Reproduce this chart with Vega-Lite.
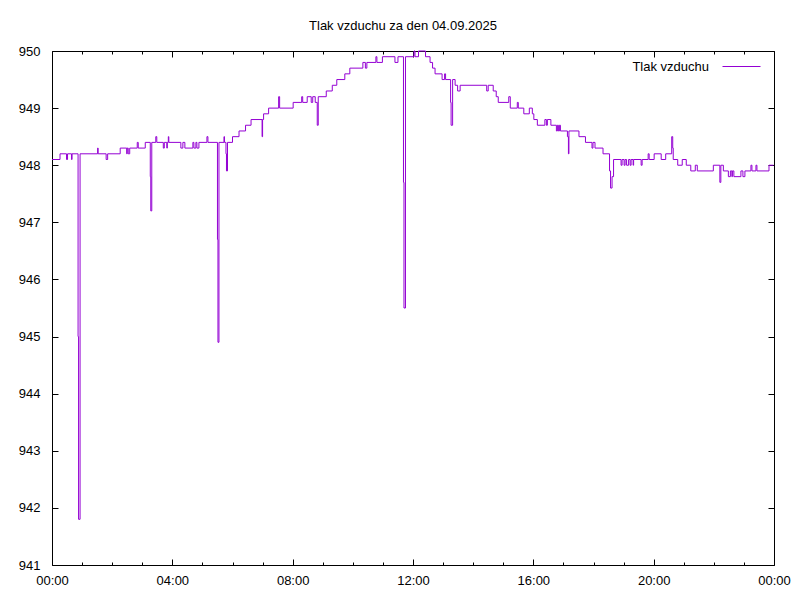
{
  "$schema": "https://vega.github.io/schema/vega-lite/v6.json",
  "width": 722,
  "height": 514,
  "autosize": {"type": "none"},
  "padding": {"left": 52, "top": 51, "right": 26, "bottom": 35},
  "background": "white",
  "title": {"text": "Tlak vzduchu za den 04.09.2025", "font": "Liberation Sans", "fontSize": 13, "fontWeight": "normal", "color": "black", "offset": 12, "dx": -10},
  "config": {
    "view": {"stroke": "black", "strokeWidth": 1},
    "axis": {"grid": false, "domain": false, "title": null, "tickColor": "black", "tickWidth": 1, "labelColor": "black", "labelFont": "Liberation Sans", "labelFontSize": 13}
  },
  "data": {"values": [
    {"minuta": 0, "tlak": 948.1}, {"minuta": 16, "tlak": 948.2}, {"minuta": 29, "tlak": 948.1}, {"minuta": 31, "tlak": 948.2},
    {"minuta": 39, "tlak": 948.1}, {"minuta": 40, "tlak": 948.2}, {"minuta": 52, "tlak": 945.0}, {"minuta": 53, "tlak": 941.8},
    {"minuta": 56, "tlak": 948.2}, {"minuta": 91, "tlak": 948.3}, {"minuta": 92, "tlak": 948.2}, {"minuta": 108, "tlak": 948.1},
    {"minuta": 111, "tlak": 948.2}, {"minuta": 136, "tlak": 948.3}, {"minuta": 149, "tlak": 948.2}, {"minuta": 150, "tlak": 948.3},
    {"minuta": 152, "tlak": 948.2}, {"minuta": 155, "tlak": 948.3}, {"minuta": 170, "tlak": 948.4}, {"minuta": 172, "tlak": 948.3},
    {"minuta": 186, "tlak": 948.4}, {"minuta": 196, "tlak": 947.8}, {"minuta": 197, "tlak": 947.2}, {"minuta": 199, "tlak": 948.4},
    {"minuta": 207, "tlak": 948.5}, {"minuta": 209, "tlak": 948.4}, {"minuta": 222, "tlak": 948.3}, {"minuta": 224, "tlak": 948.4},
    {"minuta": 229, "tlak": 948.3}, {"minuta": 230, "tlak": 948.4}, {"minuta": 232, "tlak": 948.5}, {"minuta": 233, "tlak": 948.4},
    {"minuta": 257, "tlak": 948.3}, {"minuta": 261, "tlak": 948.4}, {"minuta": 265, "tlak": 948.3}, {"minuta": 281, "tlak": 948.4},
    {"minuta": 283, "tlak": 948.3}, {"minuta": 287, "tlak": 948.4}, {"minuta": 289, "tlak": 948.3}, {"minuta": 293, "tlak": 948.4},
    {"minuta": 309, "tlak": 948.5}, {"minuta": 311, "tlak": 948.4}, {"minuta": 330, "tlak": 946.7}, {"minuta": 331, "tlak": 944.9},
    {"minuta": 333, "tlak": 948.4}, {"minuta": 343, "tlak": 948.5}, {"minuta": 344, "tlak": 948.4}, {"minuta": 347, "tlak": 948.2},
    {"minuta": 348, "tlak": 947.9}, {"minuta": 350, "tlak": 948.4}, {"minuta": 360, "tlak": 948.5}, {"minuta": 373, "tlak": 948.6},
    {"minuta": 386, "tlak": 948.7}, {"minuta": 397, "tlak": 948.8}, {"minuta": 419, "tlak": 948.5}, {"minuta": 420, "tlak": 948.8},
    {"minuta": 422, "tlak": 948.9}, {"minuta": 432, "tlak": 949.0}, {"minuta": 452, "tlak": 949.2}, {"minuta": 454, "tlak": 949.0},
    {"minuta": 481, "tlak": 949.1}, {"minuta": 498, "tlak": 949.2}, {"minuta": 500, "tlak": 949.1}, {"minuta": 509, "tlak": 949.2},
    {"minuta": 517, "tlak": 949.1}, {"minuta": 520, "tlak": 949.2}, {"minuta": 525, "tlak": 949.1}, {"minuta": 529, "tlak": 948.7},
    {"minuta": 531, "tlak": 949.2}, {"minuta": 547, "tlak": 949.3}, {"minuta": 559, "tlak": 949.4}, {"minuta": 568, "tlak": 949.5},
    {"minuta": 584, "tlak": 949.6}, {"minuta": 594, "tlak": 949.7}, {"minuta": 620, "tlak": 949.8}, {"minuta": 625, "tlak": 949.7},
    {"minuta": 628, "tlak": 949.8}, {"minuta": 646, "tlak": 949.9}, {"minuta": 648, "tlak": 949.8}, {"minuta": 659, "tlak": 949.9},
    {"minuta": 684, "tlak": 949.8}, {"minuta": 690, "tlak": 949.9}, {"minuta": 701, "tlak": 947.7}, {"minuta": 702, "tlak": 945.5},
    {"minuta": 705, "tlak": 949.9}, {"minuta": 722, "tlak": 950.0}, {"minuta": 724, "tlak": 949.9}, {"minuta": 731, "tlak": 950.0},
    {"minuta": 745, "tlak": 949.9}, {"minuta": 754, "tlak": 949.8}, {"minuta": 759, "tlak": 949.7}, {"minuta": 764, "tlak": 949.6},
    {"minuta": 778, "tlak": 949.5}, {"minuta": 783, "tlak": 949.6}, {"minuta": 785, "tlak": 949.5}, {"minuta": 795, "tlak": 949.1},
    {"minuta": 796, "tlak": 948.7}, {"minuta": 799, "tlak": 949.5}, {"minuta": 804, "tlak": 949.4}, {"minuta": 809, "tlak": 949.3},
    {"minuta": 814, "tlak": 949.4}, {"minuta": 867, "tlak": 949.3}, {"minuta": 870, "tlak": 949.4}, {"minuta": 880, "tlak": 949.3},
    {"minuta": 886, "tlak": 949.2}, {"minuta": 890, "tlak": 949.1}, {"minuta": 911, "tlak": 949.2}, {"minuta": 914, "tlak": 949.0},
    {"minuta": 928, "tlak": 949.1}, {"minuta": 930, "tlak": 949.0}, {"minuta": 941, "tlak": 948.9}, {"minuta": 952, "tlak": 949.0},
    {"minuta": 958, "tlak": 948.9}, {"minuta": 961, "tlak": 948.8}, {"minuta": 968, "tlak": 948.7}, {"minuta": 983, "tlak": 948.8},
    {"minuta": 986, "tlak": 948.7}, {"minuta": 988, "tlak": 948.8}, {"minuta": 995, "tlak": 948.7}, {"minuta": 1006, "tlak": 948.6},
    {"minuta": 1008, "tlak": 948.7}, {"minuta": 1010, "tlak": 948.6}, {"minuta": 1012, "tlak": 948.7}, {"minuta": 1014, "tlak": 948.6},
    {"minuta": 1028, "tlak": 948.5}, {"minuta": 1030, "tlak": 948.2}, {"minuta": 1031, "tlak": 948.6}, {"minuta": 1051, "tlak": 948.5},
    {"minuta": 1064, "tlak": 948.4}, {"minuta": 1077, "tlak": 948.3}, {"minuta": 1079, "tlak": 948.4}, {"minuta": 1083, "tlak": 948.3},
    {"minuta": 1099, "tlak": 948.2}, {"minuta": 1112, "tlak": 947.9}, {"minuta": 1114, "tlak": 947.6}, {"minuta": 1117, "tlak": 947.8},
    {"minuta": 1120, "tlak": 948.1}, {"minuta": 1135, "tlak": 948.0}, {"minuta": 1137, "tlak": 948.1}, {"minuta": 1141, "tlak": 948.0},
    {"minuta": 1143, "tlak": 948.1}, {"minuta": 1146, "tlak": 948.0}, {"minuta": 1150, "tlak": 948.1}, {"minuta": 1153, "tlak": 948.0},
    {"minuta": 1155, "tlak": 948.1}, {"minuta": 1159, "tlak": 948.0}, {"minuta": 1160, "tlak": 948.1}, {"minuta": 1175, "tlak": 948.0},
    {"minuta": 1177, "tlak": 948.1}, {"minuta": 1189, "tlak": 948.2}, {"minuta": 1191, "tlak": 948.1}, {"minuta": 1201, "tlak": 948.2},
    {"minuta": 1215, "tlak": 948.1}, {"minuta": 1224, "tlak": 948.2}, {"minuta": 1236, "tlak": 948.5}, {"minuta": 1238, "tlak": 948.3},
    {"minuta": 1239, "tlak": 948.1}, {"minuta": 1248, "tlak": 948.0}, {"minuta": 1257, "tlak": 948.1}, {"minuta": 1265, "tlak": 948.0},
    {"minuta": 1274, "tlak": 947.9}, {"minuta": 1283, "tlak": 948.0}, {"minuta": 1287, "tlak": 947.9}, {"minuta": 1319, "tlak": 948.0},
    {"minuta": 1332, "tlak": 947.7}, {"minuta": 1334, "tlak": 948.0}, {"minuta": 1339, "tlak": 947.9}, {"minuta": 1349, "tlak": 947.8},
    {"minuta": 1353, "tlak": 947.9}, {"minuta": 1356, "tlak": 947.8}, {"minuta": 1357, "tlak": 947.9}, {"minuta": 1360, "tlak": 947.8},
    {"minuta": 1374, "tlak": 947.9}, {"minuta": 1378, "tlak": 947.8}, {"minuta": 1382, "tlak": 947.9}, {"minuta": 1394, "tlak": 948.0},
    {"minuta": 1396, "tlak": 947.9}, {"minuta": 1404, "tlak": 948.0}, {"minuta": 1406, "tlak": 947.9}, {"minuta": 1430, "tlak": 948.0},
    {"minuta": 1439, "tlak": 948.0}
  ]},
  "layer": [
    {
      "mark": {"type": "line", "interpolate": "step-after", "strokeWidth": 1},
      "encoding": {
        "x": {"field": "minuta", "type": "quantitative",
          "scale": {"domain": [0, 1440], "nice": false, "zero": false},
          "axis": {"orient": "bottom", "values": [0, 60, 120, 180, 240, 300, 360, 420, 480, 540, 600, 660, 720, 780, 840, 900, 960, 1020, 1080, 1140, 1200, 1260, 1320, 1380, 1440],
            "labelExpr": "datum.value % 240 === 0 ? slice('0' + ((datum.value / 60) % 24), -2) + ':00' : ''",
            "tickSize": {"condition": {"test": "datum.value % 240 === 0", "value": -6}, "value": -3},
            "labelPadding": 15, "labelFlush": false, "labelOverlap": false}},
        "y": {"field": "tlak", "type": "quantitative",
          "scale": {"domain": [941, 950], "nice": false, "zero": false},
          "axis": {"orient": "left", "values": [941, 942, 943, 944, 945, 946, 947, 948, 949, 950], "format": "d", "tickSize": -6, "labelPadding": 18}},
        "color": {"datum": "Tlak vzduchu", "type": "nominal", "scale": {"range": ["#9400d3"]},
          "legend": {"orient": "none", "legendX": 670, "legendY": -4, "title": null, "symbolType": "stroke", "symbolSize": 1444, "symbolStrokeWidth": 1, "labelAlign": "right", "labelOffset": -52, "labelFont": "Liberation Sans", "labelFontSize": 13, "labelColor": "black", "padding": 0}}
      }
    },
    {
      "mark": {"type": "line", "interpolate": "step-after", "strokeWidth": 1, "opacity": 0},
      "encoding": {
        "x": {"field": "minuta", "type": "quantitative",
          "axis": {"orient": "top", "labels": false, "values": [0, 60, 120, 180, 240, 300, 360, 420, 480, 540, 600, 660, 720, 780, 840, 900, 960, 1020, 1080, 1140, 1200, 1260, 1320, 1380, 1440],
            "tickSize": {"condition": {"test": "datum.value % 240 === 0", "value": -6}, "value": -3}}},
        "y": {"field": "tlak", "type": "quantitative",
          "axis": {"orient": "right", "labels": false, "values": [941, 942, 943, 944, 945, 946, 947, 948, 949, 950], "tickSize": -6}}
      }
    }
  ],
  "resolve": {"axis": {"x": "independent", "y": "independent"}}
}
